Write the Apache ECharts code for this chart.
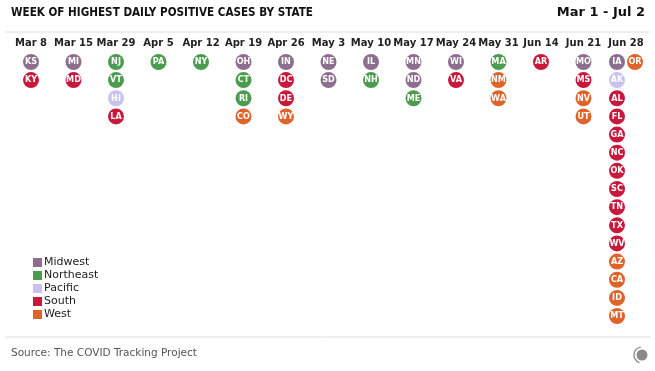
<!DOCTYPE html>
<html><head><meta charset="utf-8">
<script src="https://cdn.jsdelivr.net/npm/echarts@6/dist/echarts.min.js"></script>
<style>html,body{margin:0;padding:0;background:#fff}#c{width:655px;height:371px}</style>
</head><body><div id="c"></div>
<script>
const weeks = ['Mar 8','Mar 15','Mar 29','Apr 5','Apr 12','Apr 19','Apr 26','May 3','May 10','May 17','May 24','May 31','Jun 14','Jun 21','Jun 28'];
const weekStates = [
  ['KS','KY'],
  ['MI','MD'],
  ['NJ','VT','HI','LA'],
  ['PA'],
  ['NY'],
  ['OH','CT','RI','CO'],
  ['IN','DC','DE','WY'],
  ['NE','SD'],
  ['IL','NH'],
  ['MN','ND','ME'],
  ['WI','VA'],
  ['MA','NM','WA'],
  ['AR'],
  ['MO','MS','NV','UT'],
  ['IA','OR','AK','AL','FL','GA','NC','OK','SC','TN','TX','WV','AZ','CA','ID','MT']
];
// states drawn beside the previous one in their week
const besidePrevious = ['OR'];
const regions = ['Midwest','Northeast','Pacific','South','West'];
const midwest = ['KS','MI','OH','IN','NE','SD','IL','MN','ND','WI','MO','IA'];
const northeast = ['NJ','VT','PA','NY','CT','RI','NH','ME','MA'];
const pacific = ['HI','AK'];
const south = ['KY','MD','LA','DC','DE','VA','AR','MS','AL','FL','GA','NC','OK','SC','TN','TX','WV'];
const west = ['CO','WY','NM','WA','NV','UT','OR','AZ','CA','ID','MT'];
const regionStates = [midwest, northeast, pacific, south, west];
const colors = ['#8d6e8e','#4c9c4f','#c9c1ee','#c8193c','#e0632a'];

// build positions
const pos = {};
weekStates.forEach((list, wi) => {
  const hasSide = list.some(s => besidePrevious.includes(s));
  let row = 0;
  list.forEach((s) => {
    if (besidePrevious.includes(s)) {
      pos[s] = [wi + 0.212, row - 1];
    } else {
      pos[s] = [hasSide ? wi - 0.212 : wi, row];
      row++;
    }
  });
});

const series = regions.map((r, i) => ({
  name: r,
  type: 'scatter',
  xAxisIndex: 0,
  yAxisIndex: 0,
  symbol: 'circle',
  symbolSize: 16,
  itemStyle: { color: colors[i], opacity: 1 },
  label: {
    show: true, position: 'inside',
    formatter: p => p.data.name,
    color: '#fff', fontSize: 9, fontWeight: 'bold', fontFamily: 'DejaVu Sans Condensed'
  },
  emphasis: { disabled: true },
  data: regionStates[i].map(s => ({ name: s, value: pos[s] }))
}));

const chart = echarts.init(document.getElementById('c'), null, { renderer: 'canvas' });
chart.setOption({
  animation: false,
  backgroundColor: '#fff',
  textStyle: { fontFamily: 'DejaVu Sans' },
  grid: { left: 9.75, right: 7.75, top: 52.9, bottom: 45.9 },
  xAxis: [
    { type: 'value', min: -0.5, max: 14.5, show: false },
    { type: 'category', data: weeks, position: 'top', boundaryGap: true,
      axisLine: { show: false }, axisTick: { show: false }, splitLine: { show: false },
      axisLabel: { color: '#222', fontSize: 10, fontWeight: 'bold', margin: 4, interval: 0, fontFamily: 'DejaVu Sans' } }
  ],
  yAxis: { type: 'value', min: -0.5, max: 14.5, inverse: true, show: false },
  legend: {
    orient: 'vertical', left: 28, top: 252,
    data: regions, icon: 'rect', itemWidth: 9, itemHeight: 9, itemGap: 2,
    selectedMode: false,
    textStyle: { fontSize: 11, color: '#222', fontFamily: 'DejaVu Sans', padding: [0, 0, 0, -3] }
  },
  graphic: [
    { type: 'text', left: 11, top: 7, style: { text: 'WEEK OF HIGHEST DAILY POSITIVE CASES BY STATE', fontSize: 11.6, fontWeight: 'bold', fill: '#111', fontFamily: 'DejaVu Sans Condensed' } },
    { type: 'text', right: 10, top: 6, style: { text: 'Mar 1 - Jul 2', fontSize: 13, fontWeight: 'bold', fill: '#111', fontFamily: 'DejaVu Sans' } },
    { type: 'line', shape: { x1: 5, y1: 32, x2: 650, y2: 32 }, style: { stroke: '#ddd', lineWidth: 1 } },
    { type: 'line', shape: { x1: 5, y1: 337, x2: 650, y2: 337 }, style: { stroke: '#ddd', lineWidth: 1 } },
    { type: 'text', left: 11, top: 348, style: { text: 'Source: The COVID Tracking Project', fontSize: 10.5, fill: '#555', fontFamily: 'DejaVu Sans' } },
    { type: 'circle', shape: { cx: 642, cy: 355, r: 5.5 }, style: { fill: '#8a8a8a' } },
    { type: 'arc', shape: { cx: 642, cy: 355, r: 8, startAngle: Math.PI * 0.6, endAngle: Math.PI * 1.45 }, style: { stroke: '#8a8a8a', lineWidth: 1.3, fill: null } }
  ],
  series: series
});
</script></body></html>
